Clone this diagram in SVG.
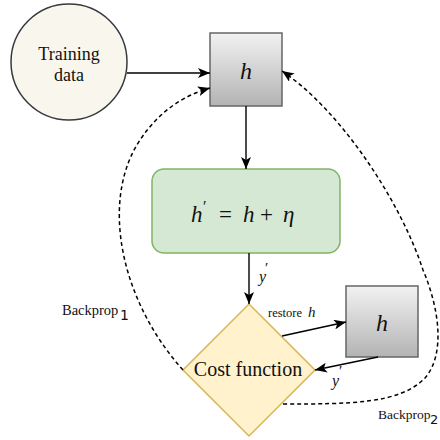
<svg xmlns="http://www.w3.org/2000/svg" width="440" height="440" viewBox="0 0 440 440">
<defs>
<linearGradient id="grayGrad" x1="0" y1="0" x2="0" y2="1">
<stop offset="0" stop-color="#f2f2f2"/>
<stop offset="1" stop-color="#b3b3b3"/>
</linearGradient>
<marker id="arrow" markerUnits="userSpaceOnUse" viewBox="0 0 12 10" refX="12" refY="5" markerWidth="12" markerHeight="10" orient="auto">
<path d="M0,0 L12,5 L0,10 L3,5 z" fill="#000"/>
</marker>
</defs>
<style>
.serif{font-family:'Liberation Serif','DejaVu Serif',serif;fill:#111}
.math{font-family:'Liberation Serif','DejaVu Serif',serif;font-style:italic;fill:#111}
.up{font-family:'Liberation Serif','DejaVu Serif',serif;fill:#111}
.solid{fill:none;stroke:#000;stroke-width:1.4;marker-end:url(#arrow)}
.dashA{fill:none;stroke:#000;stroke-width:1.5;stroke-dasharray:4 3;marker-end:url(#arrow)}
.gbox{fill:url(#grayGrad);stroke:#666;stroke-width:1.5}
</style>

<g id="training-data">
<circle cx="69" cy="62" r="58" fill="#f9f7ed" stroke="#36393d" stroke-width="1.5"/>
<text class="serif" x="69" y="60" font-size="18" text-anchor="middle">Training</text>
<text class="serif" x="69" y="81" font-size="18" text-anchor="middle">data</text>
</g>

<g id="h-top">
<rect class="gbox" x="210" y="33" width="72" height="73"/>
<text class="math" x="246" y="79" font-size="24" text-anchor="middle">h</text>
</g>

<g id="perturb">
<rect x="152" y="169" width="188" height="84" rx="12" ry="12" fill="#d5e8d4" stroke="#82b366" stroke-width="1.5"/>
<text class="math" x="191" y="222" font-size="23">h</text>
<text class="up" x="203" y="212" font-size="16">′</text>
<text class="up" x="219" y="222" font-size="23">=</text>
<text class="math" x="243" y="222" font-size="23">h</text>
<text class="up" x="260" y="222" font-size="23">+</text>
<text class="math" x="283" y="222" font-size="23">η</text>
</g>

<g id="cost-function">
<polygon points="249,304 315,370 249,436 183,370" fill="#fff2cc" stroke="#d6b656" stroke-width="1.5"/>
<text class="serif" x="248" y="376" font-size="20" text-anchor="middle">Cost function</text>
</g>

<g id="h-restore">
<rect class="gbox" x="346" y="286" width="72" height="71"/>
<text class="math" x="382" y="331" font-size="24" text-anchor="middle">h</text>
</g>

<g id="connectors">
<path class="solid" d="M127,73 L210,73"/>
<path class="solid" d="M246,106 L246,169"/>
<path class="solid" d="M249,253 L249,304"/>
<path class="solid" d="M282,336 L346,322"/>
<path class="solid" d="M378,357 L315,370"/>
<path class="dashA" d="M183,370 C120,300 100,200 140,140 C160,110 185,95 210,88"/>
<path class="dashA" d="M283,404 C350,404 400,404 425,378 C445,355 440,310 423,270 C400,200 340,110 282,71"/>
</g>

<g id="labels">
<text class="math" x="259" y="282" font-size="16">y</text>
<text class="up" x="265" y="273" font-size="15">′</text>
<text class="serif" x="268" y="317" font-size="12.5">restore</text>
<text class="math" x="308" y="317" font-size="15">h</text>
<text class="math" x="332" y="386" font-size="16">y</text>
<text class="up" x="339" y="376" font-size="15">′</text>
<text class="serif" x="62" y="315" font-size="14.5">Backprop</text>
<text x="120" y="320" font-size="14" font-family="DejaVu Sans, sans-serif" fill="#111">1</text>
<text class="serif" x="378" y="419" font-size="13.5">Backprop</text>
<text x="430" y="424" font-size="13" font-family="DejaVu Sans, sans-serif" fill="#111">2</text>
</g>
</svg>
